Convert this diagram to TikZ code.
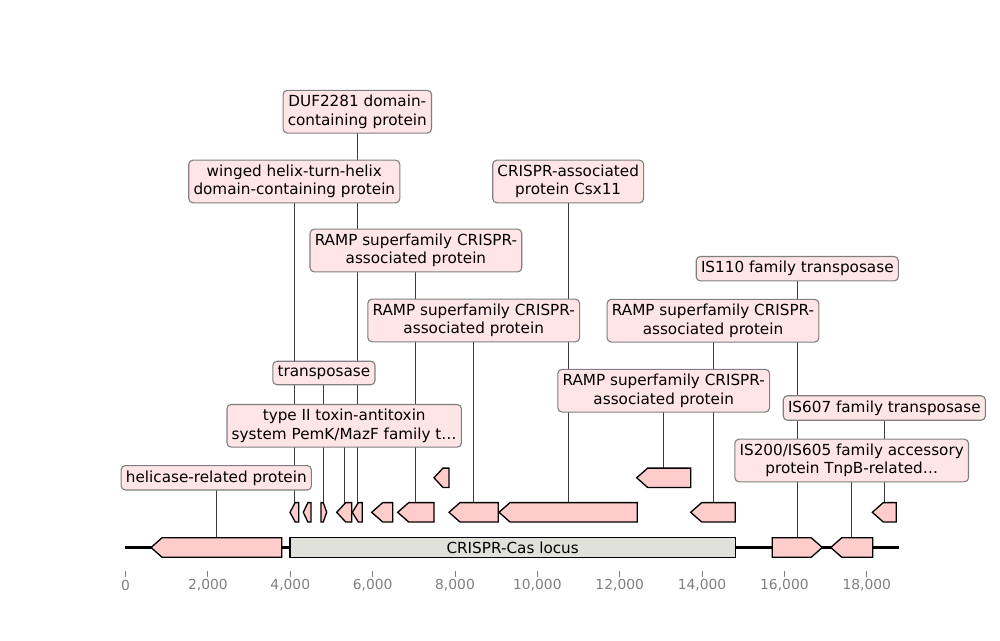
\documentclass[tikz,border=0pt]{standalone}
\usepackage{fontspec}
\setmainfont{DejaVu Sans}
\usetikzlibrary{backgrounds}
\definecolor{genefill}{HTML}{FFCCCC}
\definecolor{labfill}{HTML}{FFE5E5}
\definecolor{labedge}{HTML}{7F7F7F}
\definecolor{locusfill}{HTML}{E1E1DB}
\definecolor{axisgray}{HTML}{808080}
\definecolor{leadgray}{HTML}{3C3C3C}
\tikzset{
  every node/.style={font=\fontsize{11}{13.2}\selectfont},
  gene/.style={draw=black,fill=genefill,line width=.95pt,line join=miter},
  locus/.style={draw=black,fill=locusfill,line width=.95pt,inner sep=0,minimum width=4.453in,minimum height=.194in},
  lab/.style={draw=labedge,fill=labfill,line width=.8pt,rounded corners=3pt,align=center,inner xsep=3.4pt,inner ysep=3.5pt},
  leader/.style={draw=leadgray,line width=.7pt},
  backbone/.style={line width=1.7pt},
  tick/.style={draw=axisgray,line width=.7pt},
  ticklab/.style={font=\fontsize{10}{12}\selectfont,text=axisgray}
}

\begin{document}
\begin{tikzpicture}[x=0.01in,y=-0.01in]
  \path[use as bounding box] (0,0) rectangle (1000,640);
  \draw[backbone] (125.3,547.5) -- (899.3,547.5);

  \foreach \n/\a/\b/\y in {hel/151/281.7/547.5,is200/830.7/872.7/547.5,
      wh/290/298.7/512.3,u1/303.3/311/512.3,tox/336.7/351.7/512.3,duf/352.3/362.3/512.3,
      u2/371.7/392.7/512.3,r1/397.7/434/512.3,r2/449/498.3/512.3,csx/499/637.3/512.3,
      r3/690.7/735.3/512.3,is607/872.3/896.3/512.3,
      u3/434/449/477.8,r4/636.7/690.7/477.8} {
    \pgfmathsetmacro\h{min(11,0.6*(\b-\a))}
    \draw[gene] (\a,\y) -- (\a+\h,\y-9.7) -- (\b,\y-9.7) -- (\b,\y+9.7) -- (\a+\h,\y+9.7) -- cycle;
    \coordinate (\n) at ({(\a+\b)/2},\y-9.7);
  }
  \foreach \n/\a/\b/\y in {is110/772.3/822.3/547.5,tn/321/326.7/512.3} {
    \pgfmathsetmacro\h{min(11,0.6*(\b-\a))}
    \draw[gene] (\b,\y) -- (\b-\h,\y-9.7) -- (\a,\y-9.7) -- (\a,\y+9.7) -- (\b-\h,\y+9.7) -- cycle;
    \coordinate (\n) at ({(\a+\b)/2},\y-9.7);
  }
  \node[locus] (locus) at (512.65,547.5) {CRISPR-Cas locus};

  \node[lab] (lduf) at (357.3,111.7) {DUF2281 domain-\\containing protein};
  \node[lab] (lwh) at (294.3,181.5) {winged helix-turn-helix\\domain-containing protein};
  \node[lab] (lcsx) at (568.2,181.5) {CRISPR-associated\\protein Csx11};
  \node[lab] (lr1) at (415.9,250.5) {RAMP superfamily CRISPR-\\associated protein};
  \node[lab] (lis110) at (797.3,268.7) {IS110 family transposase};
  \node[lab] (lr2) at (473.7,320.5) {RAMP superfamily CRISPR-\\associated protein};
  \node[lab] (lr3) at (713,320.7) {RAMP superfamily CRISPR-\\associated protein};
  \node[lab] (ltn) at (323.9,373) {transposase};
  \node[lab] (lr4) at (663.7,390.7) {RAMP superfamily CRISPR-\\associated protein};
  \node[lab] (lis607) at (884.3,408) {IS607 family transposase};
  \node[lab] (ltox) at (344.2,425.8) {type II toxin-antitoxin\\system PemK/MazF family t…};
  \node[lab] (lis200) at (851.7,460.5) {IS200/IS605 family accessory\\protein TnpB-related…};
  \node[lab] (lhel) at (216.3,477.8) {helicase-related protein};

  \begin{scope}[on background layer]
    \foreach \f in {hel,wh,tn,tox,duf,r1,r2,csx,r4,r3,is110,is200,is607}
      \draw[leader] (\f) -- (\f |- l\f.center);
  \end{scope}

  \foreach \v/\t in {0/0,2/{2,000},4/{4,000},6/{6,000},8/{8,000},10/{10,000},12/{12,000},14/{14,000},16/{16,000},18/{18,000}} {
    \draw[tick] ({125.6+41.175*\v},571) -- ++(0,5.5);
    \node[ticklab] (t\v) at ({125.6+41.175*\v},585.5) {\t};
  }
\end{tikzpicture}
\end{document}
